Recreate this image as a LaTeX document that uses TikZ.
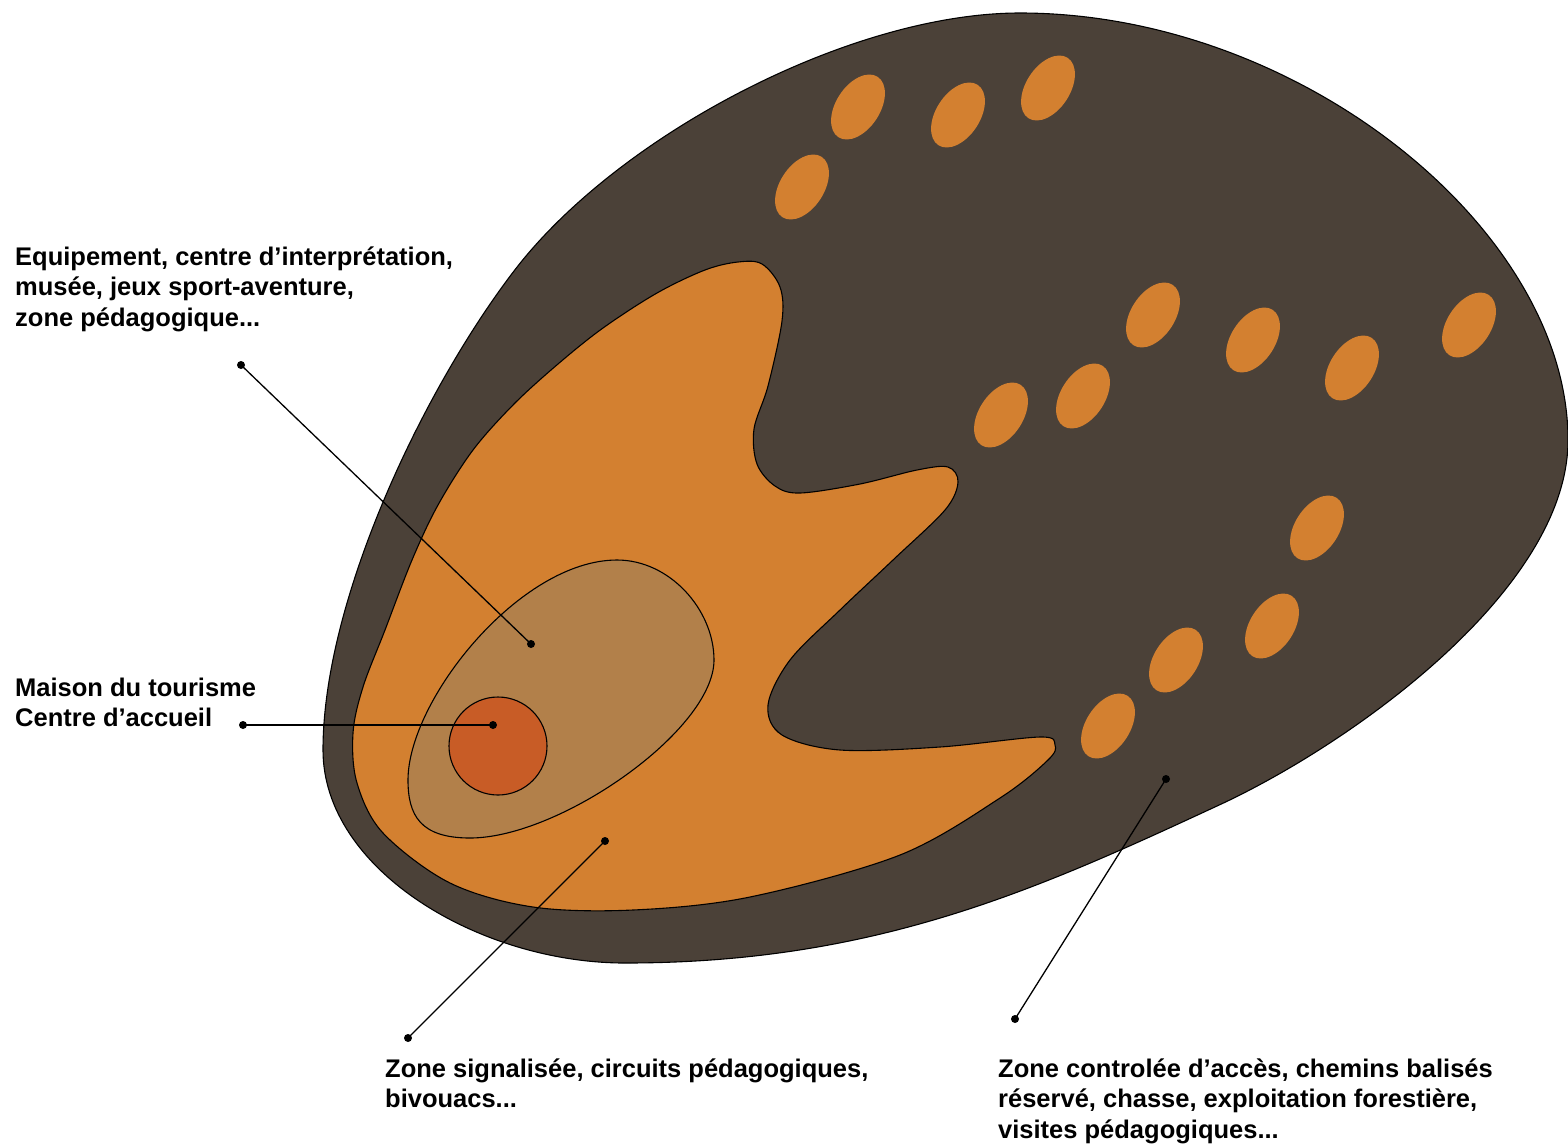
\documentclass[tikz,border=0pt]{standalone}
\usepackage{fontspec}
\setmainfont{Liberation Sans}
\definecolor{darkzone}{RGB}{75,65,56}
\definecolor{orangezone}{RGB}{211,128,48}
\definecolor{tanzone}{RGB}{178,128,74}
\definecolor{redzone}{RGB}{200,92,38}
\tikzset{
  zoneline/.style={draw=black, line width=1.1pt},
  spot/.style={fill=orangezone},
  leader/.style={draw=black, line width=1.3pt},
  dotend/.style={circle, fill=black, inner sep=0pt, minimum size=8pt},
  lbl/.style={font=\bfseries\fontsize{25.5}{30.5}\selectfont, anchor=base west, inner sep=0pt}
}
\begin{document}
\begin{tikzpicture}[x=1pt, y=-1pt]
\useasboundingbox (0,0) rectangle (1568,1144);
% outer controlled zone
\path[zoneline, fill=darkzone]
  (1020,13) .. controls (1300,13) and (1568,230) .. (1568,440)
  .. controls (1568,590) and (1350,745) .. (1217,806)
  .. controls (1036,890) and (875,963) .. (625,963)
  .. controls (480,963) and (323,870) .. (323,750)
  .. controls (323,600) and (423,390) .. (514,271)
  .. controls (617,136) and (850,13) .. cycle;
% orange signalised zone
\path[zoneline, fill=orangezone] plot[smooth cycle, tension=0.55] coordinates {
 (738,262) (762,264) (780,287) (782,321) (768,386) (754,429) (757,464) (775,486) (800,493)
 (860,484) (917,470) (948,467) (958,482) (945,510) (893,560) (840,610) (790,660)
 (768,705) (782,735) (840,750) (940,747) (1040,737) (1055,745) (1048,760)
 (1000,798) (900,855) (750,897) (633,910) (533,907) (450,883) (383,833)
 (357,783) (353,733) (363,687) (385,630) (412,560) (438,505) (473,450)
 (514,404) (558,364) (603,328) (657,293) (705,270)};
% tan equipment zone
\path[zoneline, fill=tanzone]
  (617,560) .. controls (670,560) and (714,610) .. (714,660)
  .. controls (714,730) and (560,838) .. (470,838)
  .. controls (420,838) and (408,815) .. (408,780)
  .. controls (408,700) and (520,560) .. cycle;
% welcome centre
\path[zoneline, fill=redzone] (498,746) circle (49);
% small spots
\foreach \cx/\cy in {802/187, 858/107, 958/115, 1048/88,
  1001/415, 1083/396, 1153/315, 1253/340, 1352/368, 1469/325,
  1317/528, 1272/626, 1176/660, 1108/726}{
  \fill[spot, rotate around={-33:(\cx,\cy)}] (\cx,\cy) ellipse (22 and 36);
}
% labels
\node[lbl] (tEquip) at (15,265) {\begin{tabular}[t]{@{}l@{}}Equipement, centre d’interprétation,\\ musée, jeux sport-aventure,\\ zone pédagogique...\end{tabular}};
\node[lbl] (tMaison) at (15,696) {\begin{tabular}[t]{@{}l@{}}Maison du tourisme\\ Centre d’accueil\end{tabular}};
\node[lbl] (tSignal) at (385,1077) {\begin{tabular}[t]{@{}l@{}}Zone signalisée, circuits pédagogiques,\\ bivouacs...\end{tabular}};
\node[lbl] (tControl) at (998,1077) {\begin{tabular}[t]{@{}l@{}}Zone controlée d’accès, chemins balisés\\ réservé, chasse, exploitation forestière,\\ visites pédagogiques...\end{tabular}};
% leader end points
\node[dotend] (eqA) at (241,365) {};
\node[dotend] (eqB) at (531,644) {};
\node[dotend] (maA) at (243,725) {};
\node[dotend] (maB) at (493,725) {};
\node[dotend] (siA) at (408,1038) {};
\node[dotend] (siB) at (605,841) {};
\node[dotend] (coA) at (1015,1019) {};
\node[dotend] (coB) at (1166,779) {};
\draw[leader] (eqA.center) -- (eqB.center);
\draw[leader] (maA.center) -- (maB.center);
\draw[leader] (siA.center) -- (siB.center);
\draw[leader] (coA.center) -- (coB.center);
\end{tikzpicture}
\end{document}
